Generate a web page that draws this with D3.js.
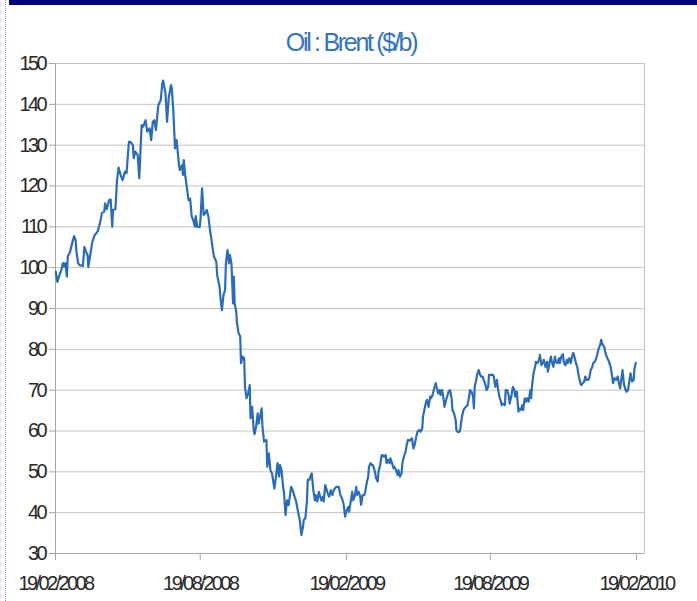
<!DOCTYPE html>
<html>
<head>
<meta charset="utf-8">
<script src="https://cdn.jsdelivr.net/npm/d3@7"></script>
<style>
  body { margin: 0; background: #fff; }
  svg text { font-family: "Liberation Sans", Arial, sans-serif; }
</style>
</head>
<body>
<div id="chart"></div>
<script>
// Brent price: trading day offset from 19/02/2008 and $/b
const startDate = new Date(Date.UTC(2008, 1, 19));
const dayOffsets = [
  0,1,3,5,8,10,11,13,15,16,
  19,21,24,26,27,29,31,35,37,39,
  41,42,45,47,50,52,54,57,59,62,
  63,65,68,70,72,73,76,78,80,83,
  85,88,90,93,95,98,99,101,104,106,
  109,111,114,116,119,121,123,125,127,130,
  131,133,135,136,139,141,143,146,147,149,
  151,153,156,157,160,161,162,164,168,170,
  172,174,176,177,179,182,183,185,187,189,
  191,193,195,197,198,200,203,204,207,208,
  210,212,214,215,217,219,220,222,224,225,
  226,228,229,231,233,234,236,238,239,241,
  243,245,246,248,250,251,253,255,256,258,
  260,261,263,266,267,269,271,273,276,278,
  280,282,283,285,287,288,290,292,294,297,
  299,302,303,305,307,308,310,312,313,315,
  317,318,320,322,323,325,327,328,330,332,
  333,335,337,338,340,342,343,345,347,349,
  350,352,354,357,359,361,363,364,365,367,
  369,370,372,374,375,377,379,380,382,384,
  385,387,389,390,392,394,395,397,399,400,
  402,404,406,407,409,411,412,414,416,417,
  419,421,422,424,426,427,429,431,432,434,
  436,437,439,441,442,444,446,447,449,451,
  453,454,456,458,460,462,463,465,467,468,
  470,472,473,475,477,479,480,482,484,485,
  487,489,490,492,494,495,497,499,500,502,
  504,505,507,509,510,512,514,515,517,519,
  521,522,524,526,527,528,530,531,533,535,
  536,538,540,541,543,545,546,548,551,552,
  554,556,557,559,561,562,564,566,567,569,
  571,572,574,576,578,579,581,583,584,586,
  588,589,591,593,594,596,598,599,600,602,
  604,605,607,609,610,612,614,615,617,619,
  620,622,624,625,627,629,630,632,634,635,
  637,639,640,642,644,645,647,649,650,652,
  654,655,657,659,661,662,664,666,667,669,
  671,672,674,676,677,679,681,682,684,686,
  687,689,691,692,694,696,697,699,701,702,
  704,706,708,709,711,713,714,716,718,719,
  721,723,724,726,728,729,731
];
const prices = [
  99,98.9,96.4,97.7,99.3,101.0,100.1,101,97.7,102.6,
  103.8,105.4,107.6,106.6,103.8,101,100.5,100.3,105,103.8,
  103,100,103.8,106.2,107.9,108.3,108.9,111.1,113.3,113.6,
  115.6,114.2,116.4,116.6,109.9,114,114.2,121.3,124.4,122.3,
  121.3,123.4,123,130.7,130.7,129.9,126.7,128.3,127.5,121.8,
  134.8,134.4,136,133.2,134,131.1,135.6,136,133.6,139.7,
  140.1,140.9,145,145.7,142.6,135.6,141.4,144.6,143.8,137.7,
  129.1,131.1,125,123.8,125,122.6,126.2,122.2,116.4,116.8,
  112.4,111.5,109.9,112.5,109.9,109.8,111.5,119.3,112.8,113.2,
  114,112.4,109.1,106.6,105,102.6,101.3,98.1,95.2,92.8,
  89.5,93.2,94.4,100.9,104.2,100.9,103,100.9,91.1,97.7,
  91.1,89.1,86.2,83.8,83,76.5,78.1,77.7,70.7,67.9,
  69.1,71.1,63,65.8,60.1,59.1,60.9,64.2,61.7,63.4,
  65.4,60.9,57.3,57.7,51.1,54.4,50.3,49.5,45.8,48.7,
  52,48.7,51.5,50.3,46.2,45,39.3,42.9,41.7,46.2,
  45.4,43.4,42.9,40.9,38.9,38.1,34.4,36.4,38.1,38.5,
  42.9,47.9,47.9,49.1,49.5,45.4,42.9,44.2,42.6,45,
  44.2,42.9,43.8,42.6,46.6,45.4,44.6,43.8,45.4,44.2,
  45,45.8,46.2,46.2,44.2,43.4,42.1,40.5,38.9,40.5,
  41.3,40.1,42.6,45,42.9,43.8,46.2,44.2,45,43.8,
  41.8,44.2,44.2,44.6,47,48.7,51.1,52,51.5,51.5,
  50.3,48.3,47.5,49.9,51.5,54,54,53.6,54,52,
  52.8,52,53.2,52,50.7,51.1,50.3,49.1,50.3,48.7,
  49.5,52,53.6,54.8,56,57.7,57.5,57.7,58.1,55.6,
  56.9,58.1,59.7,60.1,59.7,60.5,63.4,65.4,67.1,67.5,
  65.8,68.3,67.9,68.7,70.3,71.6,70.7,69.1,69.9,68.7,
  69.9,67.5,65.8,67.5,68.7,69.5,69.9,67.9,65,64.2,
  62.6,60.1,59.6,59.7,60.5,63.4,65,65.4,65.8,66.2,
  68.3,69.9,69.5,68.3,65.4,70.7,72.4,73.6,74.8,73.6,
  73.2,73.2,72,71.6,69.9,70.7,73.6,73.6,73.6,73.2,
  70.7,72.4,70.7,68.3,67.1,66.2,66.6,66.2,69.9,69.9,
  68.3,66.6,68.3,70.7,69.9,68.3,69.5,64.6,65.4,65,
  66.2,65,67.9,67.1,67.9,67.1,69.9,67.9,70.7,74,
  75.6,76.8,76.5,77.3,78.5,76,76.8,77.3,75.6,76.8,
  74.4,76.5,78.1,76.8,75.6,78.1,76.8,76.5,77.7,76.5,
  78.1,78.7,76.8,76,77.3,76.5,77.7,76.5,77.7,79,
  77.7,76.8,75.6,73.2,71.6,71.1,71.6,72,73.2,72.4,
  72.4,72.8,74.8,75.6,76.5,76.8,77.7,78.5,80.1,81,
  82.2,81,80.5,79.3,78.1,77.3,76.8,75.6,73.2,71.6,
  72.8,72.4,73.2,72,70.3,73.2,74.8,71.1,69.9,69.5,
  69.9,72.8,74,72,72.4,75.2,76.8
];
const yTicks = [30, 40, 50, 60, 70, 80, 90, 100, 110, 120, 130, 140, 150];
const xTickDates = ["2008-02-19", "2008-08-19", "2009-02-19", "2009-08-19", "2010-02-19"];
const chartTitle = "Oil : Brent ($/b)";

const W = 697, H = 601;
const plot = {left: 55, right: 644, top: 63, bottom: 553};

const svg = d3.select("#chart").append("svg")
  .attr("width", W)
  .attr("height", H);

// window frame bits (dotted left edge, dark bar on top)
svg.append("line")
  .attr("x1", 5.5).attr("x2", 5.5).attr("y1", 0).attr("y2", H)
  .attr("stroke", "#6a9be0").attr("stroke-width", 1)
  .attr("stroke-dasharray", "1,1");
svg.append("rect")
  .attr("x", 9).attr("y", 0).attr("width", W - 9).attr("height", 5)
  .attr("fill", "#00007a");

const data = dayOffsets.map((d, i) => ({date: d3.utcDay.offset(startDate, d), value: prices[i]}));

const x = d3.scaleUtc()
  .domain([startDate, d3.utcDay.offset(startDate, 741)])
  .range([plot.left, plot.right]);
const y = d3.scaleLinear()
  .domain([30, 150])
  .range([plot.bottom, plot.top]);

// horizontal gridlines
svg.append("g")
  .attr("class", "grid")
  .attr("transform", `translate(${plot.left},0)`)
  .call(d3.axisRight(y).tickValues(yTicks).tickSize(plot.right - plot.left).tickFormat(""))
  .call(g => g.select(".domain").remove())
  .call(g => g.selectAll("line").attr("stroke", "#c4c4c4"));

// right border of plot area
svg.append("line")
  .attr("x1", plot.right + 0.5).attr("x2", plot.right + 0.5)
  .attr("y1", plot.top).attr("y2", plot.bottom)
  .attr("stroke", "#c4c4c4");

// y axis
svg.append("g")
  .attr("transform", `translate(${plot.left},0)`)
  .call(d3.axisLeft(y).tickValues(yTicks).tickSize(6).tickSizeOuter(0).tickPadding(4))
  .call(g => g.select(".domain").attr("stroke", "#a6a6a6"))
  .call(g => g.selectAll("line").attr("stroke", "#a6a6a6"))
  .call(g => g.selectAll("text")
    .attr("fill", "#2a2a2a")
    .style("font-size", "20px")
    .style("letter-spacing", "-2.6px"));

// x axis
const fmt = d3.utcFormat("%d/%m/%Y");
svg.append("g")
  .attr("transform", `translate(0,${plot.bottom})`)
  .call(d3.axisBottom(x)
    .tickValues(xTickDates.map(s => d3.utcParse("%Y-%m-%d")(s)))
    .tickSize(7).tickSizeOuter(0).tickPadding(16)
    .tickFormat(fmt))
  .call(g => g.select(".domain").attr("stroke", "#a6a6a6"))
  .call(g => g.selectAll("line").attr("stroke", "#a6a6a6"))
  .call(g => g.selectAll("text")
    .attr("fill", "#2a2a2a")
    .style("font-size", "20px")
    .style("letter-spacing", "-2.6px"));

// price line
const line = d3.line()
  .x(d => x(d.date))
  .y(d => y(d.value));
svg.append("path")
  .datum(data)
  .attr("d", line)
  .attr("fill", "none")
  .attr("stroke", "#2b6cb9")
  .attr("stroke-width", 2.2)
  .attr("stroke-linejoin", "round");

// title
svg.append("text")
  .attr("x", 351)
  .attr("y", 51)
  .attr("text-anchor", "middle")
  .attr("fill", "#3574c0")
  .style("font-size", "25px")
  .style("letter-spacing", "-2.3px")
  .text(chartTitle);
</script>
</body>
</html>
